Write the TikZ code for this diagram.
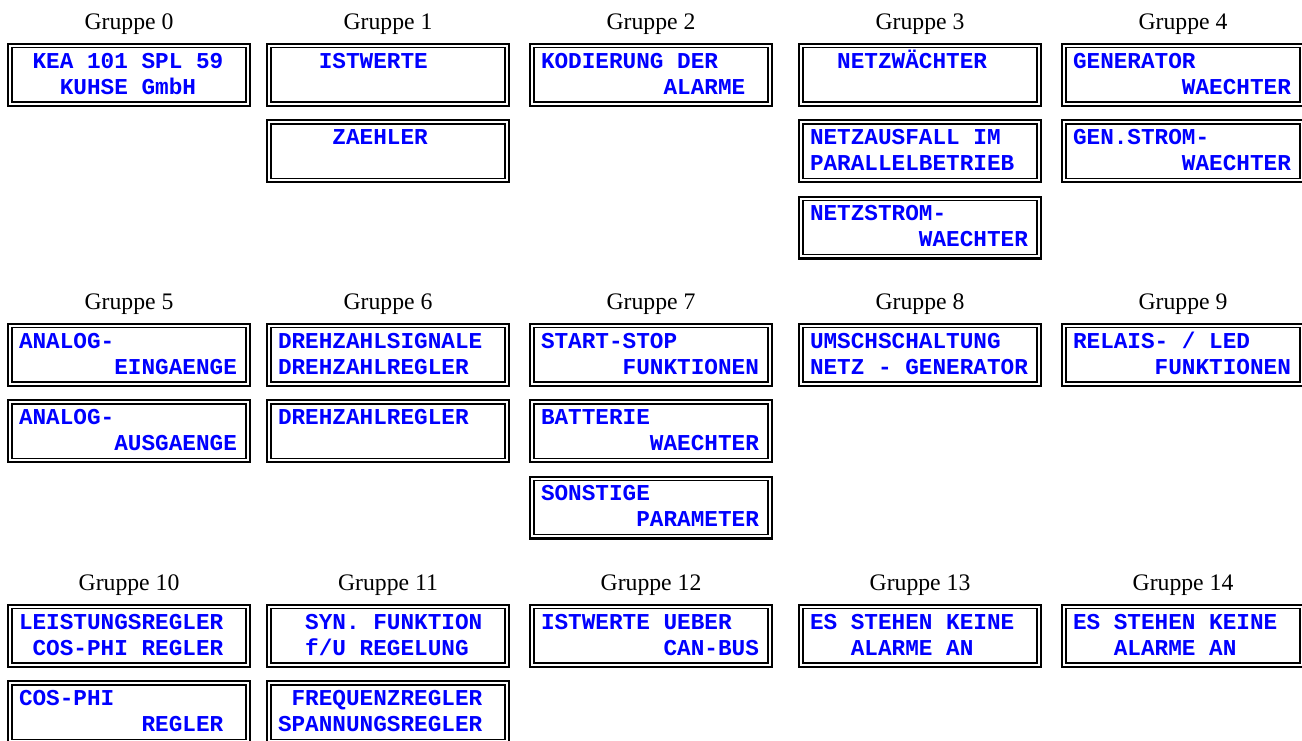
\documentclass[tikz,border=0pt]{standalone}
\usepackage{fontspec}
\setmainfont{Liberation Serif}
\newfontfamily\lcdfont{Liberation Mono}
\usepackage{tikz}
\usetikzlibrary{positioning}
\definecolor{lcdblue}{RGB}{0,0,255}
\newcommand\lcd[2]{\spaceskip=6.81pt\relax\xspaceskip=6.81pt\relax
  \raisebox{0pt}[6.3pt][0pt]{#1}\\\raisebox{0pt}[0pt][0pt]{#2}}
\tikzset{
  lcd/.style={preaction={draw,line width=3.2pt},fill=white,draw,double,line width=0.7pt,double distance=1pt,
    minimum width=118.8pt,minimum height=28.8pt,text width=110pt,inner xsep=4.4pt,inner ysep=0pt,
    align=left,text=lcdblue,font=\lcdfont\bfseries\fontsize{11.35}{13}\selectfont},
  grp/.style={font=\fontsize{11.85}{14}\selectfont,inner sep=0pt,anchor=base},
}

\begin{document}
\begin{tikzpicture}[x=0.5pt,y=-0.5pt,node distance=8.7pt]
\useasboundingbox (0,0) rectangle (1302,740);
\node[lcd,anchor=north] (b0a) at (129,45.2) {\lcd{~KEA 101 SPL 59}{~~~KUHSE GmbH}};
\node[lcd,anchor=north] (b1a) at (388,45.2) {\lcd{~~~ISTWERTE}{}};
\node[lcd,below=of b1a] (b1b) {\lcd{~~~~ZAEHLER}{}};
\node[lcd,anchor=north] (b2a) at (651,45.2) {\lcd{KODIERUNG DER}{~~~~~~~~~ALARME}};
\node[lcd,anchor=north] (b3a) at (920,45.2) {\lcd{~~NETZWÄCHTER}{}};
\node[lcd,below=of b3a] (b3b) {\lcd{NETZAUSFALL IM}{PARALLELBETRIEB}};
\node[lcd,below=of b3b] (b3c) {\lcd{NETZSTROM-}{~~~~~~~~WAECHTER}};
\node[lcd,anchor=north] (b4a) at (1183,45.2) {\lcd{GENERATOR}{~~~~~~~~WAECHTER}};
\node[lcd,below=of b4a] (b4b) {\lcd{GEN.STROM-}{~~~~~~~~WAECHTER}};

\node[lcd,anchor=north] (b5a) at (129,325.2) {\lcd{ANALOG-}{~~~~~~~EINGAENGE}};
\node[lcd,below=of b5a] (b5b) {\lcd{ANALOG-}{~~~~~~~AUSGAENGE}};
\node[lcd,anchor=north] (b6a) at (388,325.2) {\lcd{DREHZAHLSIGNALE}{DREHZAHLREGLER}};
\node[lcd,below=of b6a] (b6b) {\lcd{DREHZAHLREGLER}{}};
\node[lcd,anchor=north] (b7a) at (651,325.2) {\lcd{START-STOP}{~~~~~~FUNKTIONEN}};
\node[lcd,below=of b7a] (b7b) {\lcd{BATTERIE}{~~~~~~~~WAECHTER}};
\node[lcd,below=of b7b] (b7c) {\lcd{SONSTIGE}{~~~~~~~PARAMETER}};
\node[lcd,anchor=north] (b8a) at (920,325.2) {\lcd{UMSCHSCHALTUNG}{NETZ - GENERATOR}};
\node[lcd,anchor=north] (b9a) at (1183,325.2) {\lcd{RELAIS- / LED}{~~~~~~FUNKTIONEN}};

\node[lcd,anchor=north] (b10a) at (129,606.2) {\lcd{LEISTUNGSREGLER}{~COS-PHI REGLER}};
\node[lcd,below=of b10a] (b10b) {\lcd{COS-PHI}{~~~~~~~~~REGLER}};
\node[lcd,anchor=north] (b11a) at (388,606.2) {\lcd{~~SYN. FUNKTION}{~~f/U REGELUNG}};
\node[lcd,below=of b11a] (b11b) {\lcd{~FREQUENZREGLER}{SPANNUNGSREGLER}};
\node[lcd,anchor=north] (b12a) at (651,606.2) {\lcd{ISTWERTE UEBER}{~~~~~~~~~CAN-BUS}};
\node[lcd,anchor=north] (b13a) at (920,606.2) {\lcd{ES STEHEN KEINE}{~~~ALARME AN}};
\node[lcd,anchor=north] (b14a) at (1183,606.2) {\lcd{ES STEHEN KEINE}{~~~ALARME AN}};

\node[grp] (g0) at ([yshift=7.7pt]b0a.north) {Gruppe 0};
\node[grp] (g1) at ([yshift=7.7pt]b1a.north) {Gruppe 1};
\node[grp] (g2) at ([yshift=7.7pt]b2a.north) {Gruppe 2};
\node[grp] (g3) at ([yshift=7.7pt]b3a.north) {Gruppe 3};
\node[grp] (g4) at ([yshift=7.7pt]b4a.north) {Gruppe 4};
\node[grp] (g5) at ([yshift=7.7pt]b5a.north) {Gruppe 5};
\node[grp] (g6) at ([yshift=7.7pt]b6a.north) {Gruppe 6};
\node[grp] (g7) at ([yshift=7.7pt]b7a.north) {Gruppe 7};
\node[grp] (g8) at ([yshift=7.7pt]b8a.north) {Gruppe 8};
\node[grp] (g9) at ([yshift=7.7pt]b9a.north) {Gruppe 9};
\node[grp] (g10) at ([yshift=7.7pt]b10a.north) {Gruppe 10};
\node[grp] (g11) at ([yshift=7.7pt]b11a.north) {Gruppe 11};
\node[grp] (g12) at ([yshift=7.7pt]b12a.north) {Gruppe 12};
\node[grp] (g13) at ([yshift=7.7pt]b13a.north) {Gruppe 13};
\node[grp] (g14) at ([yshift=7.7pt]b14a.north) {Gruppe 14};
\end{tikzpicture}
\end{document}
